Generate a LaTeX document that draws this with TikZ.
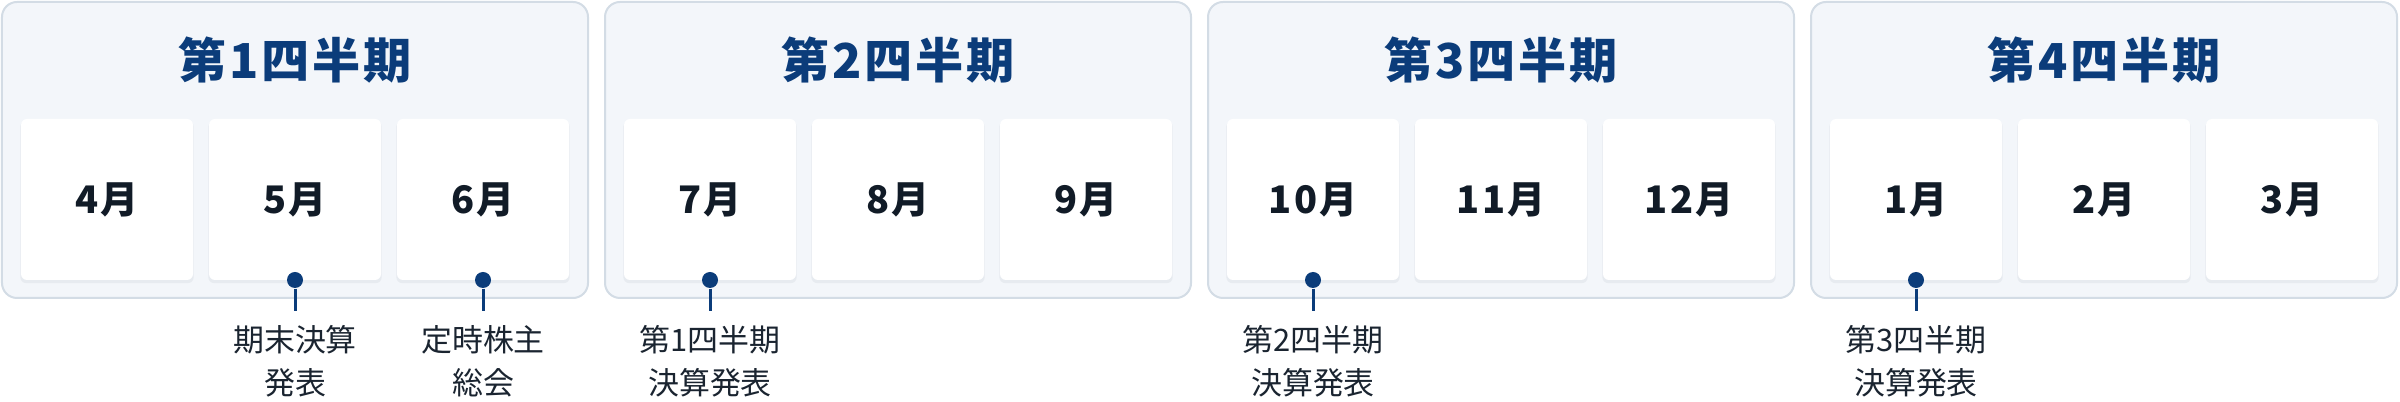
\documentclass[tikz,border=0pt]{standalone}
\usepackage{fontspec}
\usetikzlibrary{shadows}
\newfontfamily\jpfont{Noto Sans CJK JP}
\newfontfamily\jpspaced[LetterSpace=6]{Noto Sans CJK JP}
\definecolor{boxfill}{HTML}{F3F6FA}
\definecolor{boxline}{HTML}{D3DCE5}
\definecolor{cardshade}{HTML}{E7EBF0}
\definecolor{navy}{HTML}{0B3C7A}
\definecolor{monthtext}{HTML}{111B27}
\definecolor{notetext}{HTML}{1A2430}

\begin{document}
\begin{tikzpicture}[
	quarter/.style={draw=boxline, line width=0.02cm, fill=boxfill, rounded corners=0.15cm, minimum width=5.86cm, minimum height=2.96cm, inner sep=0pt, outer sep=0pt},
	qtitle/.style={text=navy, font=\jpspaced\bfseries\fontsize{13.7pt}{16pt}\selectfont},
	month/.style={fill=white, rounded corners=0.06cm, minimum width=1.72cm, minimum height=1.61cm, inner sep=0pt, outer sep=0pt, general shadow={fill=cardshade, shadow xshift=0cm, shadow yshift=-0.025cm, shadow scale=1.008}, text=monthtext, font=\jpspaced\bfseries\fontsize{10.8pt}{13pt}\selectfont},
	dot/.style={circle, fill=navy, inner sep=0pt, minimum size=0.16cm},
	tick/.style={navy, line width=0.03cm, shorten >=0.14cm},
	event/.style={anchor=north, align=center, inner sep=0pt, text=notetext, font=\jpfont\fontsize{8.8pt}{12.2pt}\selectfont}]
	\useasboundingbox (0,0) rectangle (24,-4.02);
	% quarters
	\node[quarter] (q1) at (2.95,-1.50) {};
	\node[quarter] (q2) at (8.98,-1.50) {};
	\node[quarter] (q3) at (15.01,-1.50) {};
	\node[quarter] (q4) at (21.04,-1.50) {};
	\node[qtitle] (q1title) at (2.95,-0.60) {第1四半期};
	\node[qtitle] (q2title) at (8.98,-0.60) {第2四半期};
	\node[qtitle] (q3title) at (15.01,-0.60) {第3四半期};
	\node[qtitle] (q4title) at (21.04,-0.60) {第4四半期};
	% months
	\node[month] (apr) at (1.07,-1.995) {4月};
	\node[month] (may) at (2.95,-1.995) {5月};
	\node[month] (jun) at (4.83,-1.995) {6月};
	\node[month] (jul) at (7.10,-1.995) {7月};
	\node[month] (aug) at (8.98,-1.995) {8月};
	\node[month] (sep) at (10.86,-1.995) {9月};
	\node[month] (oct) at (13.13,-1.995) {10月};
	\node[month] (nov) at (15.01,-1.995) {11月};
	\node[month] (dec) at (16.89,-1.995) {12月};
	\node[month] (jan) at (19.16,-1.995) {1月};
	\node[month] (feb) at (21.04,-1.995) {2月};
	\node[month] (mar) at (22.92,-1.995) {3月};
	% events
	\node[event] (maynote) at (2.95,-3.25) {期末決算\\発表};
	\node[event] (junnote) at (4.83,-3.25) {定時株主\\総会};
	\node[event] (julnote) at (7.10,-3.25) {第1四半期\\決算発表};
	\node[event] (octnote) at (13.13,-3.25) {第2四半期\\決算発表};
	\node[event] (jannote) at (19.16,-3.25) {第3四半期\\決算発表};
	\node[dot] (maydot) at (may.south) {};
	\node[dot] (jundot) at (jun.south) {};
	\node[dot] (juldot) at (jul.south) {};
	\node[dot] (octdot) at (oct.south) {};
	\node[dot] (jandot) at (jan.south) {};
	\draw[tick] (maydot) -- (maynote);
	\draw[tick] (jundot) -- (junnote);
	\draw[tick] (juldot) -- (julnote);
	\draw[tick] (octdot) -- (octnote);
	\draw[tick] (jandot) -- (jannote);
\end{tikzpicture}
\end{document}
